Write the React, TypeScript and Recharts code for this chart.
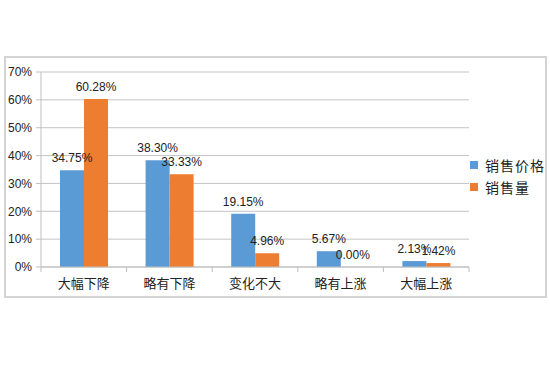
import React from 'react';
import { BarChart, Bar, XAxis, YAxis, CartesianGrid, LabelList } from 'recharts';

const categories = ['大幅下降', '略有下降', '变化不大', '略有上涨', '大幅上涨'];
const priceValues = [34.75, 38.3, 19.15, 5.67, 2.13];
const volumeValues = [60.28, 33.33, 4.96, 0.0, 1.42];
const yTicks = [0, 10, 20, 30, 40, 50, 60, 70];

const seriesNames = { price: '销售价格', volume: '销售量' };
const colors = { price: '#5B9BD5', volume: '#ED7D31' };

const font = "'Liberation Sans', 'Noto Sans CJK SC', sans-serif";
const cjkFont = "'Noto Sans CJK SC', sans-serif";

const CategoryTick = (props: any) => {
  const { x, y, payload, index } = props;
  const half = 85.6 / 2;
  return (
    <g>
      <line x1={x - half} y1={y} x2={x - half} y2={y + 5} stroke="#bfbfbf" />
      {index === categories.length - 1 && (
        <line x1={x + half} y1={y} x2={x + half} y2={y + 5} stroke="#bfbfbf" />
      )}
      <text x={x} y={y + 16} dy="0.35em" textAnchor="middle" fontSize={13} fill="#222" fontFamily={cjkFont}>
        {payload.value}
      </text>
    </g>
  );
};

// zero-height bars still need their value label
const minSize = (v: any) => (Number(v) === 0 ? 0.05 : 0);

const App: React.FC = () => {
  const data = categories.map((name, i) => ({
    name,
    price: priceValues[i],
    volume: volumeValues[i],
  }));

  const fmt = (v: any) => `${Number(v).toFixed(2)}%`;

  return (
    <div style={{ position: 'absolute', left: 0, top: 0, width: 550, height: 367, background: '#fff' }}>
      <div
        style={{
          position: 'absolute',
          left: 4,
          top: 56,
          width: 543,
          height: 242,
          boxSizing: 'border-box',
          border: '2px solid #d4d4d4',
        }}
      >
        <BarChart
          width={539}
          height={238}
          data={data}
          margin={{ top: 14, right: 76, left: 0, bottom: 0 }}
          barSize={24}
          barGap={0}
        >
          <CartesianGrid vertical={false} stroke="#c4c4c4" />
          <XAxis
            dataKey="name"
            height={29}
            axisLine={{ stroke: '#bfbfbf' }}
            tickLine={false}
            tickSize={0}
            tickMargin={0}
            interval={0}
            tick={<CategoryTick />}
          />
          <YAxis
            width={35}
            domain={[0, 70]}
            ticks={yTicks}
            interval={0}
            axisLine={{ stroke: '#bfbfbf' }}
            tickLine={{ stroke: '#bfbfbf' }}
            tickSize={5}
            tickMargin={4}
            tickFormatter={(v) => `${v}%`}
            tick={{ fontSize: 12, fill: '#222', fontFamily: font }}
          />
          <Bar dataKey="price" name={seriesNames.price} fill={colors.price} minPointSize={minSize} isAnimationActive={false}>
            <LabelList dataKey="price" position="top" offset={8} formatter={fmt} fontSize={12} fill="#222" fontFamily={font} />
          </Bar>
          <Bar dataKey="volume" name={seriesNames.volume} fill={colors.volume} minPointSize={minSize} isAnimationActive={false}>
            <LabelList dataKey="volume" position="top" offset={8} formatter={fmt} fontSize={12} fill="#222" fontFamily={font} />
          </Bar>
        </BarChart>
      </div>
      {/* legend */}
      {(['price', 'volume'] as const).map((key, i) => (
        <div
          key={key}
          style={{
            position: 'absolute',
            left: 470,
            top: 156 + i * 22,
            height: 18,
            display: 'flex',
            alignItems: 'center',
            fontFamily: cjkFont,
            fontSize: 14,
            letterSpacing: 1,
            color: '#222',
          }}
        >
          <span style={{ width: 8, height: 8, background: colors[key], marginRight: 7, display: 'inline-block' }} />
          {seriesNames[key]}
        </div>
      ))}
    </div>
  );
};

export default App;
